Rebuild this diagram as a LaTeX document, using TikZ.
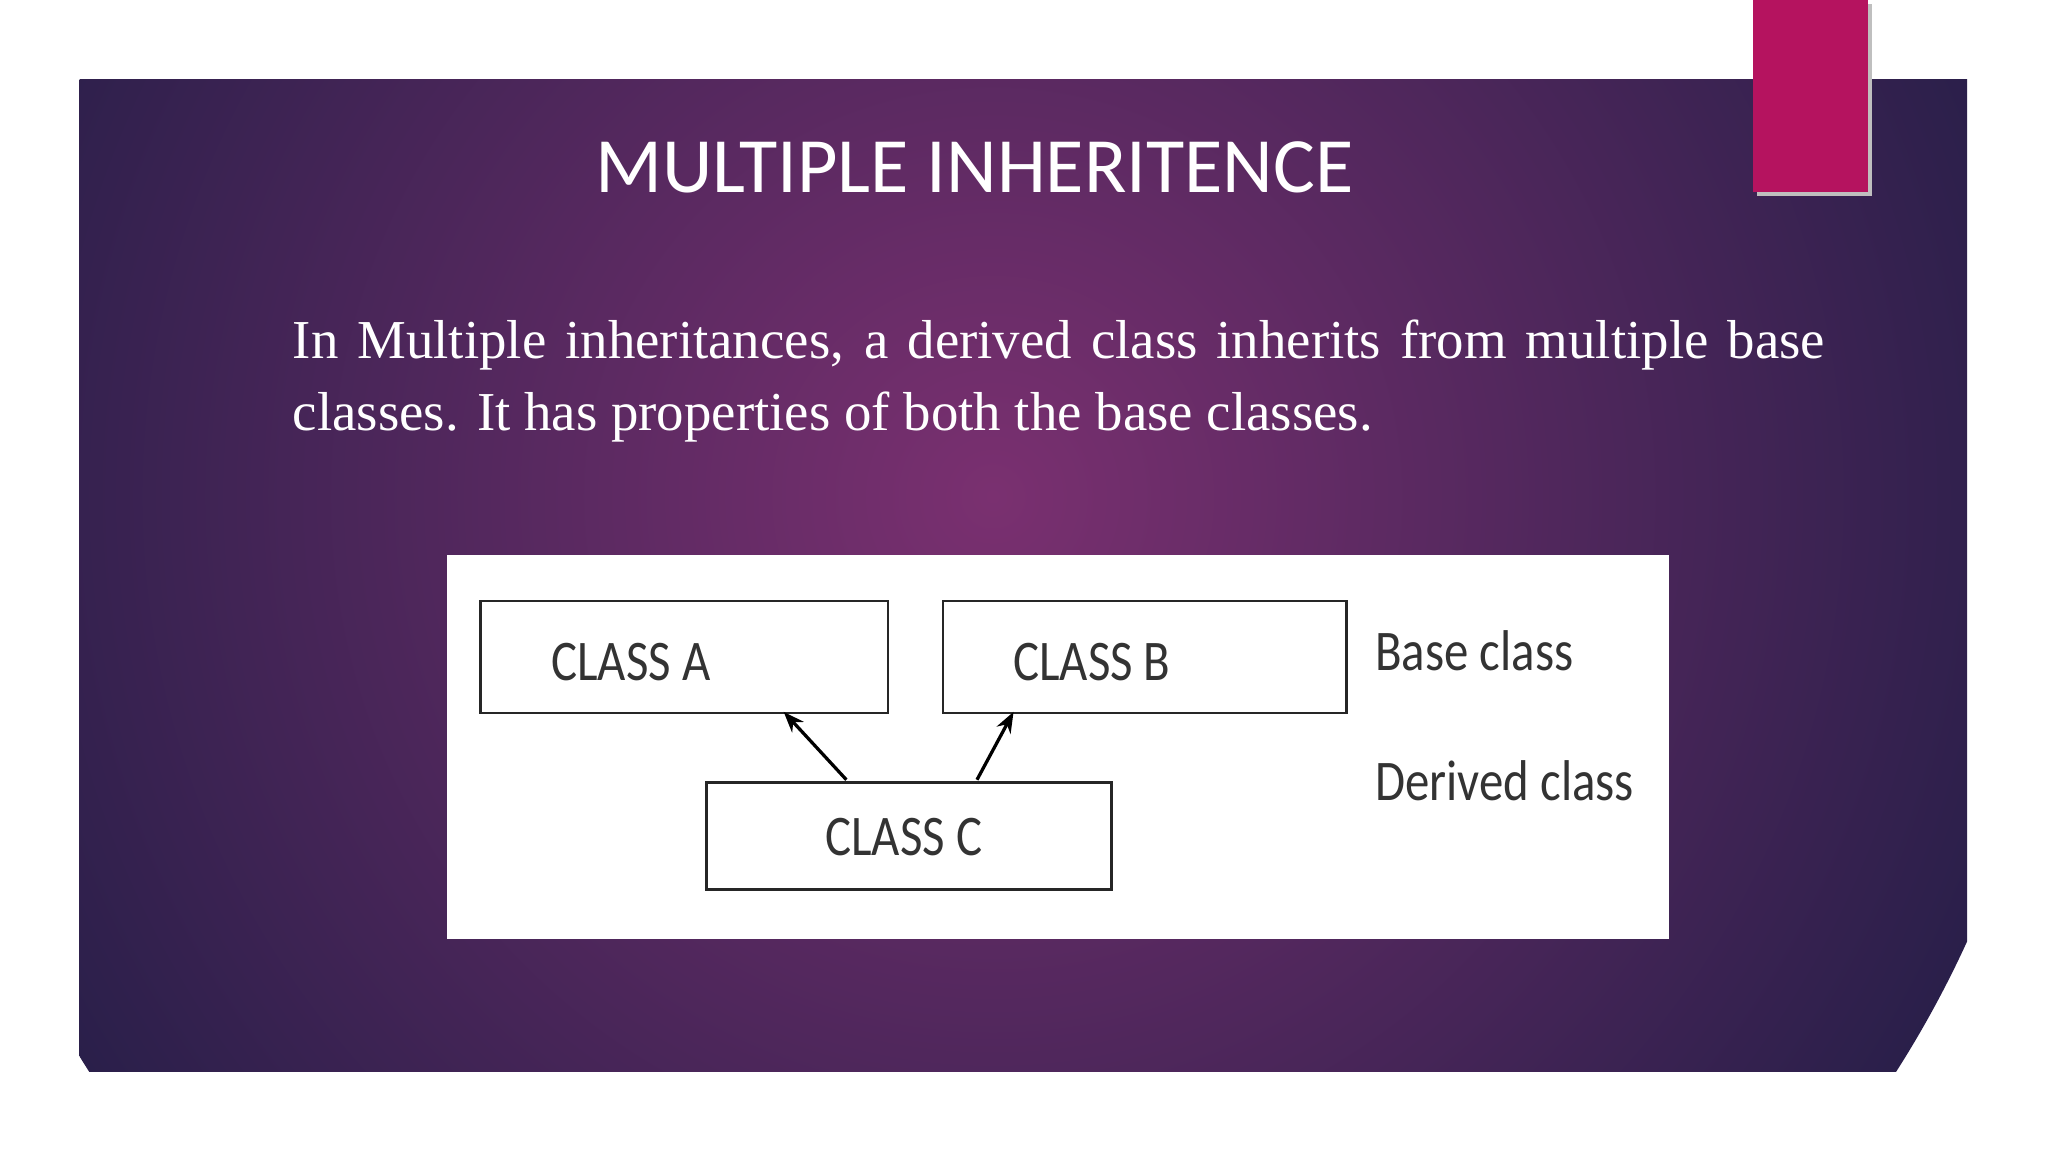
\documentclass[tikz,border=0pt]{standalone}
\usepackage{fontspec}
\setmainfont{Liberation Serif}
\newfontfamily\carl{Carlito}
\usetikzlibrary{arrows.meta}
\definecolor{pin}{HTML}{7A3070}
\definecolor{pout}{HTML}{2A1F4A}
\definecolor{mag}{HTML}{B5135F}
\tikzset{cbox/.style={draw=black!85,line width=2pt,fill=white},
 ctext/.style={font=\carl\fontsize{44}{48}\selectfont,xscale=0.85,text=black!80},
 inh/.style={-{Stealth[length=16pt,width=12pt]},line width=2.5pt}}
\begin{document}
\begin{tikzpicture}[x=1pt,y=-1pt]
\useasboundingbox (0,0) rectangle (1568,882);
\fill[white] (0,0) rectangle (1568,882);
\begin{scope}
\clip (61,61) rectangle (1506,820);
\shade[inner color=pin,outer color=pout] (760,380) circle (820);
\end{scope}
\fill[black!25] (1345,3) rectangle (1433,150);
\fill[mag] (1342,0) rectangle (1430,147);
\node (title) at (746,128) {\carl\fontsize{60}{64}\selectfont\color{white}MULTIPLE INHERITENCE};
\node[anchor=north west,text width=1173pt,inner sep=0pt,align=justify,text=white,font=\fontsize{42}{55}\selectfont] (body) at (224,245)
{In Multiple inheritances, a derived class inherits from multiple base classes. It has properties of both the base classes.};
\fill[white] (342,425) rectangle (1278,719);
\node[cbox,minimum width=312pt,minimum height=86pt,anchor=north west] (A) at (367,459) {};
\node[cbox,minimum width=309pt,minimum height=86pt,anchor=north west] (B) at (721,459) {};
\node[cbox,minimum width=310pt,minimum height=82pt,anchor=north west] (C) at (540,598) {};
\node[ctext] (ta) at (483,507) {CLASS A};
\node[ctext] (tb) at (836,507) {CLASS B};
\node[ctext] (tc) at (692,641) {CLASS C};
\node[ctext,anchor=west] (base) at (1050,498) {Base class};
\node[ctext,anchor=west] (der) at (1050,598) {Derived class};
\coordinate (c1) at (648,597); \coordinate (a1) at (600,545);
\coordinate (c2) at (748,597); \coordinate (b1) at (776,545);
\draw[inh] (c1) -- (a1);
\draw[inh] (c2) -- (b1);
\end{tikzpicture}
\end{document}
